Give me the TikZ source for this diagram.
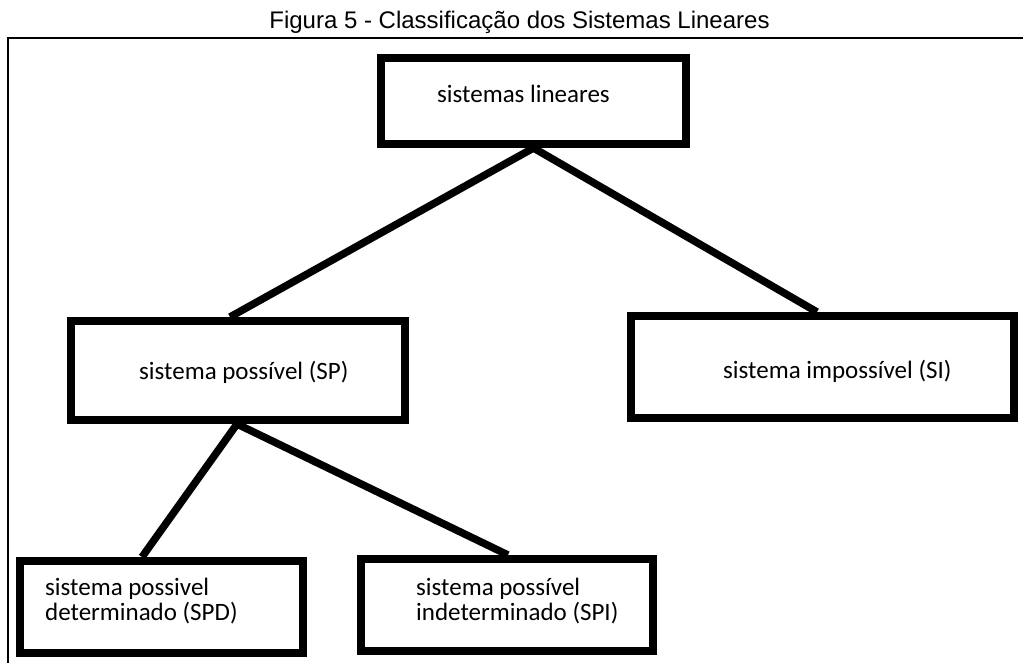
\documentclass[tikz,border=0pt]{standalone}
\usepackage{fontspec}
\setmainfont{Carlito}
\newfontfamily\titlefont{Liberation Sans}
\begin{document}
\begin{tikzpicture}[x=1pt,y=1pt,
  box/.style={draw=black, line width=8pt, fill=white, rectangle, inner sep=0pt},
  conn/.style={draw=black, line width=7.5pt},
  frameline/.style={draw=black, line width=2pt},
  txt/.style={anchor=base west, inner sep=0pt, font=\fontsize{25}{25}\selectfont},
  ttl/.style={anchor=base, inner sep=0pt, font=\titlefont\fontsize{24}{26}\selectfont}]
\useasboundingbox (0,0) rectangle (1023,-663);
\fill[white] (0,0) rectangle (1023,-663);
% title and frame
\node[ttl] (title) at (519.5,-29) {Figura 5 - Classificação dos Sistemas Lineares};
\draw[frameline] (8,-663) -- (8,-38.5) -- (1023,-38.5);
% boxes
\node[box, minimum width=305pt, minimum height=86pt] (top) at (533.5,-101) {};
\node[box, minimum width=334pt, minimum height=99pt] (sp) at (238,-370.5) {};
\node[box, minimum width=383pt, minimum height=102pt] (si) at (822.5,-367) {};
\node[box, minimum width=283pt, minimum height=92pt] (spd) at (161.5,-607) {};
\node[box, minimum width=292pt, minimum height=92pt] (spi) at (507,-605) {};
% texts
\node[txt] (topT) at (437,-103) {sistemas lineares};
\node[txt] (spT) at (139,-379) {sistema possível (SP)};
\node[txt] (siT) at (723,-378) {sistema impossível (SI)};
\node[txt] (spdT1) at (45,-595) {sistema possivel};
\node[txt] (spdT2) at (45,-620) {determinado (SPD)};
\node[txt] (spiT1) at (416,-595) {sistema possível};
\node[txt] (spiT2) at (416,-620) {indeterminado (SPI)};
% connectors
\draw[conn] (top.south) -- ([xshift=-8pt]sp.north);
\draw[conn] (top.south) -- ([xshift=-5.5pt]si.north);
\draw[conn] ([xshift=-1pt]sp.south) -- ([xshift=-19.5pt]spd.north);
\draw[conn] ([xshift=-1pt]sp.south) -- ([xshift=1pt]spi.north);
\end{tikzpicture}
\end{document}
